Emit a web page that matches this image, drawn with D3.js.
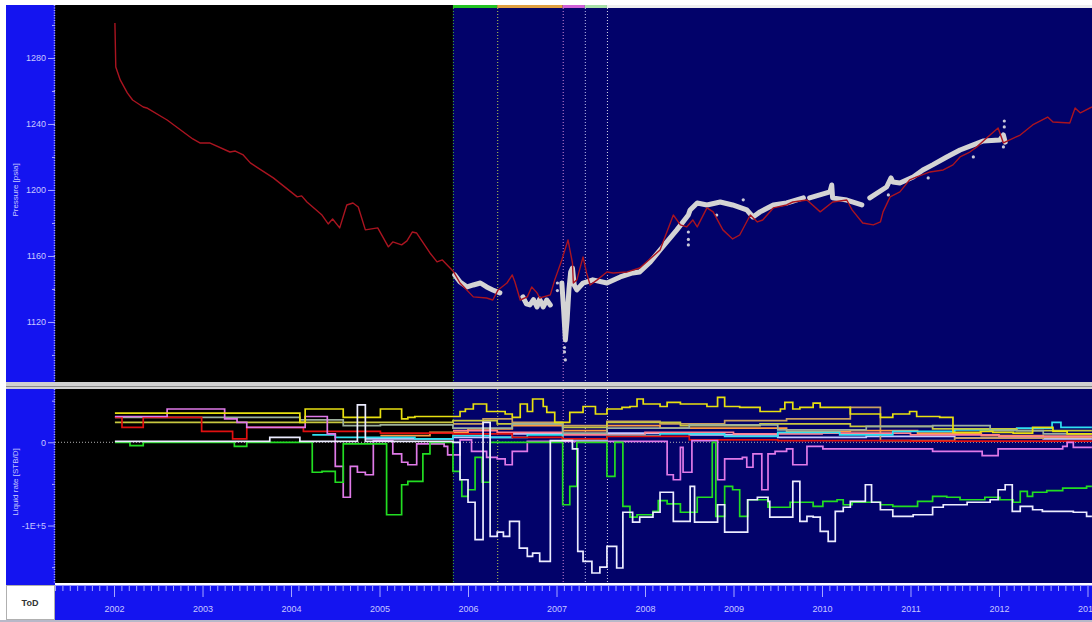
<!DOCTYPE html>
<html>
<head>
<meta charset="utf-8">
<script src="https://cdn.jsdelivr.net/npm/d3@7"></script>
<style>
  body { margin: 0; background: #fff; }
  svg { display: block; font-family: "Liberation Sans", "DejaVu Sans", sans-serif; }
</style>
</head>
<body>
<div id="chart"></div>
<script>
// ---- data (decimal years) ----
var yearTicks = [2002, 2003, 2004, 2005, 2006, 2007, 2008, 2009, 2010, 2011, 2012, 2013];
var pressureTicks = [1120, 1160, 1200, 1240, 1280];
var pressureMinor = [1100, 1140, 1180, 1220, 1260, 1300];
var rateTicks = [0, -100000];
var rateTickLabels = ["0", "-1E+5"];
var rateMinor = [50000, -50000, -150000];

// analysis periods
var periodStarts = [2005.83, 2006.33, 2007.07, 2007.32, 2007.57];
var periodBarColors = ["#22c322", "#e0a040", "#d060d8", "#a8e0a8", "#eeeeee"];
var periodLineColors = ["#3aa83a", "#b8d050", "#d088d8", "#c0c0f0", "#d8d8e8"];

// simulated pressure [psia]
var simPressure = [
  [2002.01,1301.2],[2002.02,1274.5],[2002.07,1266.7],[2002.15,1258.8],[2002.21,1254.5],[2002.33,1250.3],
  [2002.37,1249.7],[2002.60,1242.4],[2002.89,1230.9],[2002.97,1228.5],[2003.08,1228.5],[2003.31,1223.0],
  [2003.37,1223.6],[2003.46,1221.2],[2003.54,1216.4],[2003.80,1207.3],[2004.07,1195.8],[2004.12,1196.4],
  [2004.18,1192.7],[2004.35,1184.8],[2004.42,1179.4],[2004.47,1182.4],[2004.55,1177.0],[2004.63,1190.9],
  [2004.70,1192.1],[2004.76,1189.7],[2004.84,1175.8],[2004.98,1177.0],[2005.10,1165.5],[2005.15,1168.5],
  [2005.25,1166.7],[2005.31,1169.1],[2005.37,1174.5],[2005.42,1173.9],[2005.57,1161.8],[2005.65,1156.4],
  [2005.71,1157.6],[2005.83,1150.9],[2005.91,1143.6],[2006.06,1135.2],[2006.21,1134.5],[2006.28,1133.3],
  [2006.34,1139.4],[2006.44,1143.6],[2006.50,1148.5],[2006.53,1144.2],[2006.59,1133.3],[2006.67,1135.2],
  [2006.72,1141.2],[2006.78,1137.6],[2006.81,1134.5],[2006.93,1136.4],[2006.98,1145.5],[2007.06,1157.6],
  [2007.13,1169.7],[2007.18,1155.8],[2007.19,1143.6],[2007.23,1145.5],[2007.30,1159.4],[2007.34,1149.7],
  [2007.38,1142.4],[2007.46,1145.5],[2007.57,1150.3],[2007.64,1149.7],[2007.80,1150.3],[2007.94,1152.7],
  [2008.17,1163.6],[2008.32,1184.8],[2008.40,1178.8],[2008.47,1177.6],[2008.54,1181.8],[2008.59,1177.6],
  [2008.70,1189.1],[2008.77,1186.7],[2008.88,1175.8],[2008.99,1170.3],[2009.07,1172.7],[2009.19,1184.8],
  [2009.27,1180.6],[2009.33,1181.8],[2009.45,1189.1],[2009.60,1190.9],[2009.67,1192.7],[2009.83,1193.9],
  [2009.98,1186.7],[2010.12,1192.7],[2010.28,1193.9],[2010.34,1187.9],[2010.46,1180.0],[2010.58,1178.8],
  [2010.66,1180.6],[2010.69,1186.7],[2010.77,1195.8],[2010.88,1198.8],[2010.99,1206.1],[2011.07,1207.9],
  [2011.22,1210.9],[2011.37,1212.1],[2011.48,1215.2],[2011.56,1220.0],[2011.67,1223.0],[2011.75,1226.1],
  [2011.86,1231.5],[2011.99,1237.6],[2012.05,1228.5],[2012.24,1233.3],[2012.38,1239.4],[2012.55,1244.2],
  [2012.61,1241.2],[2012.80,1240.6],[2012.86,1249.7],[2012.92,1246.7],[2013.05,1250.3]
];

// measured pressure [psia], continuous stretches
var measured1 = [[2005.85,1148.5],[2005.91,1144.2],[2005.99,1141.2],[2006.06,1142.4],[2006.14,1143.6],
  [2006.21,1141.2],[2006.28,1139.4],[2006.36,1137.6]];
var measured2 = [[2006.62,1135.2],[2006.66,1131.0],[2006.70,1130.3],[2006.74,1133.5],[2006.78,1129.1],
  [2006.81,1133.8],[2006.85,1129.1],[2006.89,1133.3],[2006.93,1130.3]];
var measured3 = [[2007.06,1143.6],[2007.08,1128.0],[2007.10,1109.1],[2007.12,1121.2],[2007.14,1139.4],
  [2007.16,1150.3],[2007.18,1152.7],[2007.20,1142.4],[2007.23,1139.4],[2007.30,1143.6],[2007.41,1145.5],
  [2007.57,1143.6],[2007.72,1147.3],[2007.86,1149.7],[2007.94,1150.3],[2008.06,1156.4],[2008.17,1163.6],
  [2008.36,1175.8],[2008.49,1184.8],[2008.51,1187.9],[2008.59,1192.1],[2008.70,1190.9],[2008.85,1192.7],
  [2008.99,1190.9],[2009.15,1187.9],[2009.22,1183.6],[2009.30,1186.7],[2009.45,1190.9],[2009.60,1192.1],
  [2009.79,1195.2]];
var measured4 = [[2009.86,1195.2],[2010.09,1198.8],[2010.11,1203.0],[2010.12,1195.2],[2010.28,1193.9],
  [2010.45,1190.9]];
var measured5 = [[2010.54,1195.2],[2010.73,1201.8],[2010.78,1207.3],[2010.80,1204.8],[2010.88,1204.2],
  [2011.03,1207.9],[2011.14,1212.1],[2011.25,1215.2],[2011.41,1220.0],[2011.56,1224.2],[2011.71,1227.3],
  [2011.82,1229.7],[2012.01,1230.3],[2012.05,1233.3],[2012.07,1229.0]];
var measuredOutliers = [[2012.06,1241.8],[2012.06,1238.2],[2012.05,1226.1],[2011.71,1220.0],[2011.20,1207.3],
  [2010.75,1197.0],[2008.81,1184.8],[2008.49,1174.5],[2008.49,1170.0],[2008.49,1166.7],[2009.11,1194.0],
  [2007.09,1101.8],[2007.10,1097.0],[2007.09,1104.5],[2007.01,1143.6],[2007.01,1139.0]];

// liquid rates [STB/D], step values
var rateWhite = [[2002.01,1000],[2003.76,6000],[2004.10,1000],[2004.75,45000],[2004.84,1000],[2005.83,0],
  [2005.91,-45000],[2006.00,-72000],[2006.08,-117000],[2006.17,24000],[2006.25,-113000],[2006.33,-108000],
  [2006.40,-113000],[2006.47,-95000],[2006.58,-127000],[2006.67,-137000],[2006.73,-133000],[2006.81,-143000],
  [2006.93,2000],[2007.18,-8000],[2007.24,-131000],[2007.30,-143000],[2007.40,-157000],[2007.49,-150000],
  [2007.57,-125000],[2007.68,-151000],[2007.75,-84000],[2007.86,-96000],[2007.94,-90000],[2008.09,-84000],
  [2008.17,-60000],[2008.32,-95000],[2008.51,-53000],[2008.56,-96000],[2008.82,-75000],[2008.90,-108000],
  [2009.16,-69000],[2009.27,-66000],[2009.39,-71000],[2009.41,-90000],[2009.67,-47000],[2009.75,-95000],
  [2009.83,-89000],[2009.90,-90000],[2009.98,-107000],[2010.07,-119000],[2010.15,-83000],[2010.24,-78000],
  [2010.32,-71000],[2010.49,-51000],[2010.56,-72000],[2010.66,-81000],[2010.80,-89000],[2011.03,-87000],
  [2011.25,-78000],[2011.37,-75000],[2011.64,-72000],[2011.90,-69000],[2011.99,-57000],[2012.07,-51000],
  [2012.15,-83000],[2012.24,-77000],[2012.38,-81000],[2012.49,-83000],[2012.84,-84000],[2012.99,-89000],
  [2013.05,-89000]];
var rateGreen = [[2002.01,0],[2002.18,-4000],[2002.33,0],[2003.36,-5000],[2003.50,0],[2004.24,-36000],
  [2004.35,-35000],[2004.50,-48000],[2004.59,-2000],[2005.08,-87000],[2005.25,-51000],[2005.32,-47000],
  [2005.49,-14000],[2005.57,0],[2005.83,-35000],[2005.91,-45000],[2005.93,-65000],[2006.00,-57000],
  [2006.08,-18000],[2006.16,-48000],[2006.25,0],[2007.07,-75000],[2007.15,-53000],[2007.23,0],
  [2007.57,-41000],[2007.66,0],[2007.75,-77000],[2007.83,-90000],[2007.91,-87000],[2008.09,-83000],
  [2008.15,-70000],[2008.25,-74000],[2008.40,-84000],[2008.59,-66000],[2008.76,0],[2008.80,-89000],
  [2008.90,-53000],[2008.99,-57000],[2009.07,-89000],[2009.16,-69000],[2009.39,-78000],[2009.64,-72000],
  [2009.90,-77000],[2010.01,-71000],[2010.17,-69000],[2010.24,-75000],[2010.34,-72000],[2010.66,-75000],
  [2010.80,-77000],[2011.08,-71000],[2011.25,-65000],[2011.41,-66000],[2011.56,-69000],[2011.84,-66000],
  [2012.01,-69000],[2012.16,-72000],[2012.24,-59000],[2012.32,-65000],[2012.38,-60000],[2012.54,-58000],
  [2012.72,-55000],[2012.99,-53000],[2013.05,-53000]];
var rateViolet = [[2002.01,31000],[2002.60,40000],[2003.25,28000],[2003.39,24000],[2003.50,18000],
  [2004.16,31000],[2004.41,10000],[2004.50,-29000],[2004.59,-66000],[2004.67,-29000],[2004.75,-36000],
  [2004.84,-39000],[2004.93,2000],[2005.15,-14000],[2005.25,-24000],[2005.32,-27000],[2005.42,-2000],
  [2005.73,-5000],[2005.77,-15000],[2005.91,3000],[2006.04,-11000],[2006.21,-18000],[2006.33,-20000],
  [2006.42,-27000],[2006.50,-11000],[2006.67,1000],[2008.15,1000],[2008.25,-39000],[2008.32,-45000],
  [2008.40,-6000],[2008.43,-36000],[2008.53,2000],[2008.82,-45000],[2008.90,-20000],[2009.10,-18000],
  [2009.15,-30000],[2009.22,-14000],[2009.32,-57000],[2009.39,-14000],[2009.47,-11000],[2009.60,-8000],
  [2009.67,-27000],[2009.83,-5000],[2010.01,-8000],[2011.25,-11000],[2011.81,-16000],[2011.99,-8000],
  [2012.72,-5000],[2012.77,0],[2012.84,-6000],[2013.05,-6000]];
var rateYellow = [[2002.01,35000],[2004.10,24000],[2004.16,40000],[2004.59,30000],[2005.01,40000],
  [2005.25,28000],[2005.32,30000],[2005.40,31000],[2005.91,37000],[2005.97,40000],[2006.06,46000],
  [2006.21,37000],[2006.42,34000],[2006.50,30000],[2006.59,46000],[2006.67,37000],[2006.73,52000],
  [2006.85,43000],[2006.89,36000],[2006.98,24000],[2007.15,36000],[2007.30,43000],[2007.44,34000],
  [2007.57,40000],[2007.74,42000],[2007.83,43000],[2007.91,52000],[2007.98,46000],[2008.17,43000],
  [2008.25,48000],[2008.40,46000],[2008.70,43000],[2008.82,54000],[2008.90,43000],[2009.07,42000],
  [2009.30,37000],[2009.53,40000],[2009.58,48000],[2009.67,40000],[2009.75,42000],[2009.90,47000],
  [2009.98,42000],[2010.32,34000],[2010.66,30000],[2010.80,34000],[2010.99,37000],[2011.07,31000],
  [2011.33,30000],[2011.48,12000],[2011.79,13000],[2011.93,12000],[2012.16,11000],[2012.38,18000],
  [2012.61,13000],[2012.77,10000],[2013.05,10000]];
var rateOlive = [[2002.01,24000],[2005.40,24000],[2005.83,26000],[2006.33,22000],[2007.07,18000],
  [2007.57,24000],[2008.40,20000],[2009.30,22000],[2010.32,19000],[2011.25,16000],[2012.20,14000],
  [2013.05,14000]];
var rateGrayGreen = [[2002.01,30000],[2004.10,27000],[2004.59,20000],[2005.01,21000],[2005.83,17000],
  [2006.50,22000],[2007.07,11000],[2007.57,17000],[2008.50,21000],[2009.50,15000],[2010.50,19000],
  [2011.25,20000],[2011.90,14000],[2012.50,10000],[2013.05,10000]];
var rateRed = [[2002.01,30000],[2002.09,18000],[2002.33,30000],[2002.99,13000],[2003.34,4000],
  [2003.50,18000],[2004.14,13000],[2005.01,11000],[2005.83,10000],[2006.50,6000],[2007.07,4000],
  [2007.57,7000],[2008.50,3000],[2009.50,2000],[2011.00,1500],[2013.05,1500]];
var rateCyan = [[2004.24,9000],[2004.50,6000],[2005.40,4000],[2005.83,8000],[2006.25,6000],[2006.67,9000],
  [2007.07,3000],[2007.57,8000],[2008.17,10000],[2008.90,7000],[2009.50,12000],[2010.20,9000],
  [2010.80,13000],[2011.50,15000],[2012.20,17000],[2012.60,24000],[2012.70,18000],[2013.05,18000]];
var rateOrange = [[2005.01,8000],[2005.57,12000],[2006.00,16000],[2006.50,20000],[2007.07,14000],
  [2007.57,20000],[2008.17,17000],[2008.90,17000],[2009.60,13000],[2010.32,14000],[2011.08,11000],
  [2011.80,8000],[2012.50,7000],[2013.05,7000]];
var rateTan = [[2005.83,22000],[2006.17,28000],[2006.50,24000],[2007.07,20000],[2007.57,25000],
  [2008.17,22000],[2008.90,26000],[2009.60,28000],[2010.32,42000],[2010.66,2000],[2011.50,5000],
  [2012.50,6000],[2013.05,6000]];
var ratePink = [[2005.83,14000],[2006.33,12000],[2007.07,9000],[2008.00,12000],[2009.00,10000],
  [2010.00,11000],[2011.00,9000],[2012.00,7000],[2013.05,7000]];
var rateLavender = [[2004.84,4000],[2005.83,6000],[2006.50,10000],[2007.07,2000],[2007.57,11000],
  [2008.50,9000],[2009.50,6000],[2010.50,7000],[2011.50,5000],[2012.50,4000],[2013.05,4000]];

// ---- layout ----
var width = 1092, height = 622;
var left = 55, right = 1092;
var upTop = 5, upBottom = 382;
var lowTop = 389, lowBottom = 583;
var axisTop = 585;

var svg = d3.select("#chart").append("svg").attr("width", width).attr("height", height);

var x = d3.scaleLinear().domain([2001.333, 2013.051]).range([left, right]);
var yP = d3.scaleLinear().domain([1083.6, 1312.1]).range([upBottom, upTop]);
var yR = d3.scaleLinear().domain([-169000, 64000]).range([lowBottom, lowTop]);

// clip paths
var defs = svg.append("defs");
defs.append("clipPath").attr("id", "clipUp").append("rect")
  .attr("x", left).attr("y", upTop).attr("width", right - left).attr("height", upBottom - upTop);
defs.append("clipPath").attr("id", "clipLow").append("rect")
  .attr("x", left).attr("y", lowTop).attr("width", right - left).attr("height", lowBottom - lowTop);

// left blue panel
svg.append("rect").attr("x", 6).attr("y", upTop).attr("width", left - 6).attr("height", axisTop - upTop)
  .attr("fill", "#1414f0");

// plot backgrounds: black before the first period, navy after
[[upTop, upBottom], [lowTop, lowBottom]].forEach(function(p) {
  svg.append("rect").attr("x", left).attr("y", p[0]).attr("width", x(periodStarts[0]) - left)
    .attr("height", p[1] - p[0]).attr("fill", "#000");
  svg.append("rect").attr("x", x(periodStarts[0])).attr("y", p[0])
    .attr("width", right - x(periodStarts[0])).attr("height", p[1] - p[0]).attr("fill", "#02026a");
});

// period strip on top
periodStarts.forEach(function(s, i) {
  var e = i < periodStarts.length - 1 ? periodStarts[i + 1] : 2013.051;
  svg.append("rect").attr("x", x(s)).attr("y", upTop).attr("width", x(e) - x(s)).attr("height", 3)
    .attr("fill", periodBarColors[i]);
});

// period dotted lines
periodStarts.forEach(function(s, i) {
  [[upTop + 3, upBottom], [lowTop, lowBottom]].forEach(function(p) {
    svg.append("line").attr("x1", x(s) + 0.5).attr("x2", x(s) + 0.5).attr("y1", p[0]).attr("y2", p[1])
      .attr("stroke", periodLineColors[i]).attr("stroke-width", 1).attr("stroke-dasharray", "1,2");
  });
});

// ---- upper panel: pressure ----
var up = svg.append("g").attr("clip-path", "url(#clipUp)");
var pLine = d3.line().x(function(d) { return x(d[0]); }).y(function(d) { return yP(d[1]); });

[measured1, measured2, measured3, measured4, measured5].forEach(function(seg) {
  up.append("path").attr("d", pLine(seg)).attr("fill", "none")
    .attr("stroke", "#d4d4d4").attr("stroke-width", 5).attr("stroke-linejoin", "round")
    .attr("stroke-linecap", "round");
});
up.selectAll("circle.out").data(measuredOutliers).enter().append("circle")
  .attr("cx", function(d) { return x(d[0]); }).attr("cy", function(d) { return yP(d[1]); })
  .attr("r", 1.6).attr("fill", "#c8c8d8");

up.append("path").attr("d", pLine(simPressure)).attr("fill", "none")
  .attr("stroke", "#aa1420").attr("stroke-width", 1.4).attr("stroke-linejoin", "round");

// ---- lower panel: liquid rates ----
var low = svg.append("g").attr("clip-path", "url(#clipLow)");
low.append("line").attr("x1", left).attr("x2", right).attr("y1", yR(0)).attr("y2", yR(0))
  .attr("stroke", "#b0b0b0").attr("stroke-dasharray", "1,2");

var rLine = d3.line().curve(d3.curveStepAfter)
  .x(function(d) { return x(d[0]); }).y(function(d) { return yR(d[1]); });

var rateSeries = [
  { data: rateLavender, color: "#c8c8ff" },
  { data: rateTan, color: "#c8a060" },
  { data: rateOrange, color: "#ff9a40" },
  { data: ratePink, color: "#ff8090" },
  { data: rateCyan, color: "#30e0f0" },
  { data: rateOlive, color: "#c8c840" },
  { data: rateGrayGreen, color: "#9cb09c" },
  { data: rateRed, color: "#e01010" },
  { data: rateViolet, color: "#e07ae8" },
  { data: rateGreen, color: "#22dd22" },
  { data: rateYellow, color: "#e8e010" },
  { data: rateWhite, color: "#ececff" }
];
rateSeries.forEach(function(s) {
  low.append("path").attr("d", rLine(s.data)).attr("fill", "none")
    .attr("stroke", s.color).attr("stroke-width", 1.7);
});

// ---- separator between panels ----
svg.append("rect").attr("x", 6).attr("y", upBottom).attr("width", width - 6).attr("height", lowTop - upBottom)
  .attr("fill", "#d0d0d0");
svg.append("line").attr("x1", 6).attr("x2", width).attr("y1", upBottom + 4.5).attr("y2", upBottom + 4.5)
  .attr("stroke", "#8a8a8a").attr("stroke-width", 1);

// ---- left axes ----
var tickColor = "#a8a8ff", labelColor = "#c8c8ff";

function styleAxis(g) {
  g.select(".domain").remove();
  g.selectAll("line").attr("stroke", tickColor);
  g.selectAll("text").attr("fill", labelColor).attr("font-size", 9);
}

svg.append("g").attr("transform", "translate(" + left + ",0)")
  .call(d3.axisLeft(yP).tickValues(pressureTicks).tickSize(7).tickPadding(2).tickFormat(d3.format("d")))
  .call(styleAxis);
svg.append("g").attr("transform", "translate(" + left + ",0)")
  .call(d3.axisLeft(yP).tickValues(pressureMinor).tickSize(3).tickFormat(""))
  .call(styleAxis);

svg.append("g").attr("transform", "translate(" + left + ",0)")
  .call(d3.axisLeft(yR).tickValues(rateTicks).tickSize(7).tickPadding(2)
    .tickFormat(function(d, i) { return rateTickLabels[i]; }))
  .call(styleAxis);
svg.append("g").attr("transform", "translate(" + left + ",0)")
  .call(d3.axisLeft(yR).tickValues(rateMinor).tickSize(3).tickFormat(""))
  .call(styleAxis);

// dotted axis lines
[[upTop, upBottom], [lowTop, lowBottom]].forEach(function(p) {
  svg.append("line").attr("x1", left - 0.5).attr("x2", left - 0.5).attr("y1", p[0]).attr("y2", p[1])
    .attr("stroke", tickColor).attr("stroke-width", 1.5).attr("stroke-dasharray", "1,1.5");
});

// axis titles
svg.append("text").attr("transform", "translate(18," + yP(1200) + ") rotate(-90)")
  .attr("text-anchor", "middle").attr("fill", labelColor).attr("font-size", 8)
  .text("Pressure [psia]");
svg.append("text").attr("transform", "translate(18," + 482 + ") rotate(-90)")
  .attr("text-anchor", "middle").attr("fill", labelColor).attr("font-size", 8)
  .text("Liquid rate [STB/D]");

// ---- time axis ----
svg.append("rect").attr("x", left).attr("y", axisTop).attr("width", right - left).attr("height", 35)
  .attr("fill", "#1414f0");
svg.append("line").attr("x1", left).attr("x2", right).attr("y1", axisTop + 0.5).attr("y2", axisTop + 0.5)
  .attr("stroke", "#9090ff");

var monthTicks = [];
yearTicks.concat([2001]).forEach(function(yr) {
  for (var m = 1; m < 12; m++) {
    var t = yr + m / 12;
    if (t > x.domain()[0] && t < x.domain()[1]) monthTicks.push(t);
  }
});
svg.append("g").attr("transform", "translate(0," + (axisTop + 1) + ")")
  .call(d3.axisBottom(x).tickValues(monthTicks).tickSize(5).tickFormat(""))
  .call(styleAxis);
svg.append("g").attr("transform", "translate(0," + (axisTop + 1) + ")")
  .call(d3.axisBottom(x).tickValues(yearTicks).tickSize(11).tickPadding(9).tickFormat(d3.format("d")))
  .call(styleAxis);

// ToD box
svg.append("rect").attr("x", 6.5).attr("y", axisTop + 0.5).attr("width", left - 7).attr("height", 34)
  .attr("fill", "#fff").attr("stroke", "#b0b0b0");
svg.append("text").attr("x", 30).attr("y", axisTop + 21).attr("text-anchor", "middle")
  .attr("font-size", 9).attr("font-weight", "bold").attr("fill", "#333").text("ToD");

// bottom border
svg.append("rect").attr("x", 0).attr("y", 620).attr("width", width).attr("height", 2).attr("fill", "#b8b8c8");
</script>
</body>
</html>
